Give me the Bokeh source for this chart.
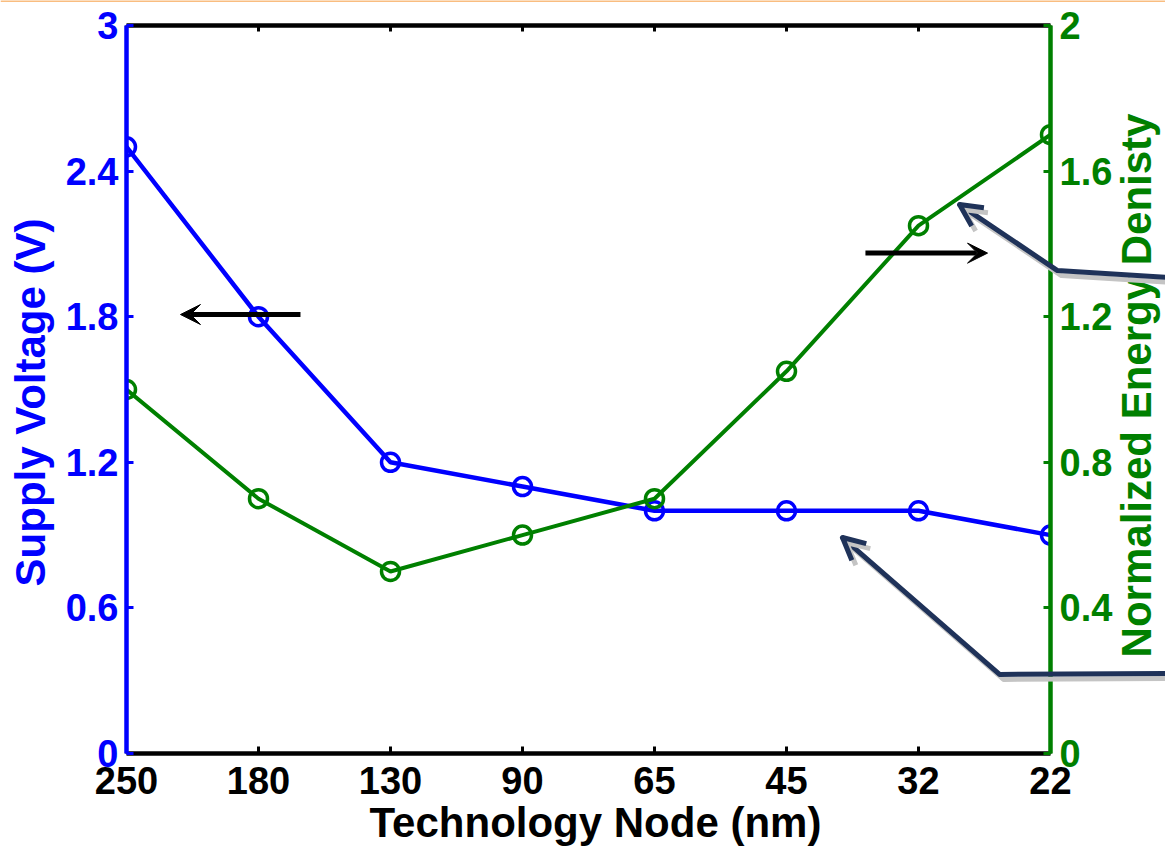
import math
from bokeh.plotting import figure
from bokeh.models import Range1d, LinearAxis, FixedTicker, Arrow, VeeHead, OpenHead, Span
from bokeh.core.properties import value
from bokeh.embed import file_html
from bokeh.resources import INLINE

# ---- data ----
nodes = ["250", "180", "130", "90", "65", "45", "32", "22"]
supply_voltage = [2.5, 1.8, 1.2, 1.1, 1.0, 1.0, 1.0, 0.9]
energy_density = [1.0, 0.70, 0.50, 0.60, 0.70, 1.05, 1.45, 1.70]
left_ticks = [0, 0.6, 1.2, 1.8, 2.4, 3]
left_tick_labels = ["0", "0.6", "1.2", "1.8", "2.4", "3"]
right_ticks = [0, 0.4, 0.8, 1.2, 1.6, 2]
right_tick_labels = ["0", "0.4", "0.8", "1.2", "1.6", "2"]
x_label = "Technology Node (nm)"
left_label = "Supply Voltage (V)"
right_label = "Normalized Energy Denisty"

# ---- styles / layout ----
BLUE = "#0000ff"
GREEN = "#008000"
NAVY = "#1f3259"
SHADOW = "#c4c4c4"
ORANGE = "#f9bd80"
FONT = "Liberation Sans"
TICK_FS = "38px"
LABEL_FS = "42px"
W, H = 1165, 848
LEFT, RIGHT, TOP, BOTTOM = 126, 1050, 25, 753
V_MAX, E_MAX = 3, 2

x_pos = list(range(len(nodes)))

p = figure(width=W, height=H, output_backend="svg", toolbar_location=None,
           x_range=Range1d(0, len(nodes) - 1), y_range=Range1d(0, V_MAX),
           min_border_left=LEFT, min_border_right=W - RIGHT,
           min_border_top=TOP, min_border_bottom=H - BOTTOM,
           x_axis_location=None, y_axis_location=None)
p.extra_y_ranges = {"right": Range1d(0, E_MAX)}
p.grid.visible = False
p.outline_line_color = None
p.background_fill_color = "white"
p.border_fill_color = "white"

# ---- series ----
p.line(x_pos, supply_voltage, line_color=BLUE, line_width=4.5)
p.scatter(x_pos, supply_voltage, marker="circle", size=18, fill_color=None,
          line_color=BLUE, line_width=3.5)
p.line(x_pos, energy_density, y_range_name="right", line_color=GREEN, line_width=4)
p.scatter(x_pos, energy_density, y_range_name="right", marker="circle", size=18,
          fill_color=None, line_color=GREEN, line_width=3.5)


def style_axis(ax, color):
    ax.axis_line_color = color
    ax.axis_line_width = 4.5
    ax.major_tick_line_color = color
    ax.major_tick_line_width = 3
    ax.major_tick_in = 7
    ax.major_tick_out = 0
    ax.minor_tick_line_color = None
    ax.major_label_text_color = color
    ax.major_label_text_font = FONT
    ax.major_label_text_font_style = "bold"
    ax.major_label_text_font_size = TICK_FS


bottom = LinearAxis(ticker=FixedTicker(ticks=x_pos),
                    major_label_overrides=dict(zip(x_pos, nodes)))
style_axis(bottom, "black")
bottom.major_label_standoff = 13
p.add_layout(bottom, "below")

top = LinearAxis(ticker=FixedTicker(ticks=x_pos),
                 major_label_overrides={i: "" for i in x_pos})
style_axis(top, "black")
top.major_tick_in = 6
top.major_label_text_font_size = "0px"
top.major_label_standoff = 0
p.add_layout(top, "above")

left = LinearAxis(ticker=FixedTicker(ticks=left_ticks),
                  major_label_overrides=dict(zip(left_ticks, left_tick_labels)))
style_axis(left, BLUE)
left.major_label_standoff = 8
p.add_layout(left, "left")

right = LinearAxis(y_range_name="right", ticker=FixedTicker(ticks=right_ticks),
                   major_label_overrides=dict(zip(right_ticks, right_tick_labels)))
style_axis(right, GREEN)
right.major_label_standoff = 9
p.add_layout(right, "right")

# ---- black direction arrows (inside the plot) ----
black_arrows = [((1.318, 1.809), (0.409, 1.809)), ((5.598, 2.062), (6.523, 2.062))]
for (xs, ys), (xe, ye) in black_arrows:
    p.add_layout(Arrow(x_start=xs, y_start=ys, x_end=xe, y_end=ye, line_color="black",
                       line_width=5,
                       end=VeeHead(size=20, fill_color="black", line_color="black", line_width=1)))

# ---- transparent overlay figure, same data mapping, covering whole canvas ----
px_x = (RIGHT - LEFT) / (len(nodes) - 1)
px_y = (BOTTOM - TOP) / V_MAX
ov = figure(width=W, height=H, output_backend="svg", toolbar_location=None,
            x_range=Range1d(-LEFT / px_x, (W - LEFT) / px_x),
            y_range=Range1d(-(H - BOTTOM) / px_y, V_MAX + TOP / px_y),
            min_border=0, x_axis_location=None, y_axis_location=None)
ov.grid.visible = False
ov.outline_line_color = None
ov.background_fill_color = None
ov.border_fill_color = None
ov.styles = {"position": "absolute", "left": "0px", "top": "0px"}

# thin orange slide border at the very top
ov.add_layout(Span(location=V_MAX + TOP / px_y, dimension="width",
                   line_color=ORANGE, line_width=3))

# axis titles
titles = [
    (left_label, -0.731, 1.4465, math.pi / 2, BLUE),
    (right_label, 7.648, 1.5165, math.pi / 2, GREEN),
    (x_label, 3.553, -0.2864, 0.0, "black"),
]
for txt, tx, ty, ang, col in titles:
    ov.text(x=[tx], y=[ty], text=[txt], angle=ang, text_align="center",
            text_baseline="middle", text_color=col, text_font=value(FONT),
            text_font_style="bold", text_font_size=value(LABEL_FS))

# callout arrows (navy with grey shadow)
callouts = [
    [(7.95, 1.960), (7.053, 1.990), (6.311, 2.262)],
    [(7.95, 0.330), (6.614, 0.326), (5.424, 0.890)],
]
dx, dy = 4 / px_x, -5 / px_y
for color, ox, oy in [(SHADOW, dx, dy), (NAVY, 0.0, 0.0)]:
    for pts in callouts:
        xs = [q[0] + ox for q in pts]
        ys = [q[1] + oy for q in pts]
        ov.line(xs, ys, line_color=color, line_width=5, line_join="round", line_cap="round")
        ov.add_layout(Arrow(x_start=xs[-2], y_start=ys[-2], x_end=xs[-1], y_end=ys[-1],
                            line_alpha=0, line_width=5,
                            end=OpenHead(size=22, line_color=color, line_width=5)))

open("out.html", "w").write(file_html([p, ov], INLINE))
